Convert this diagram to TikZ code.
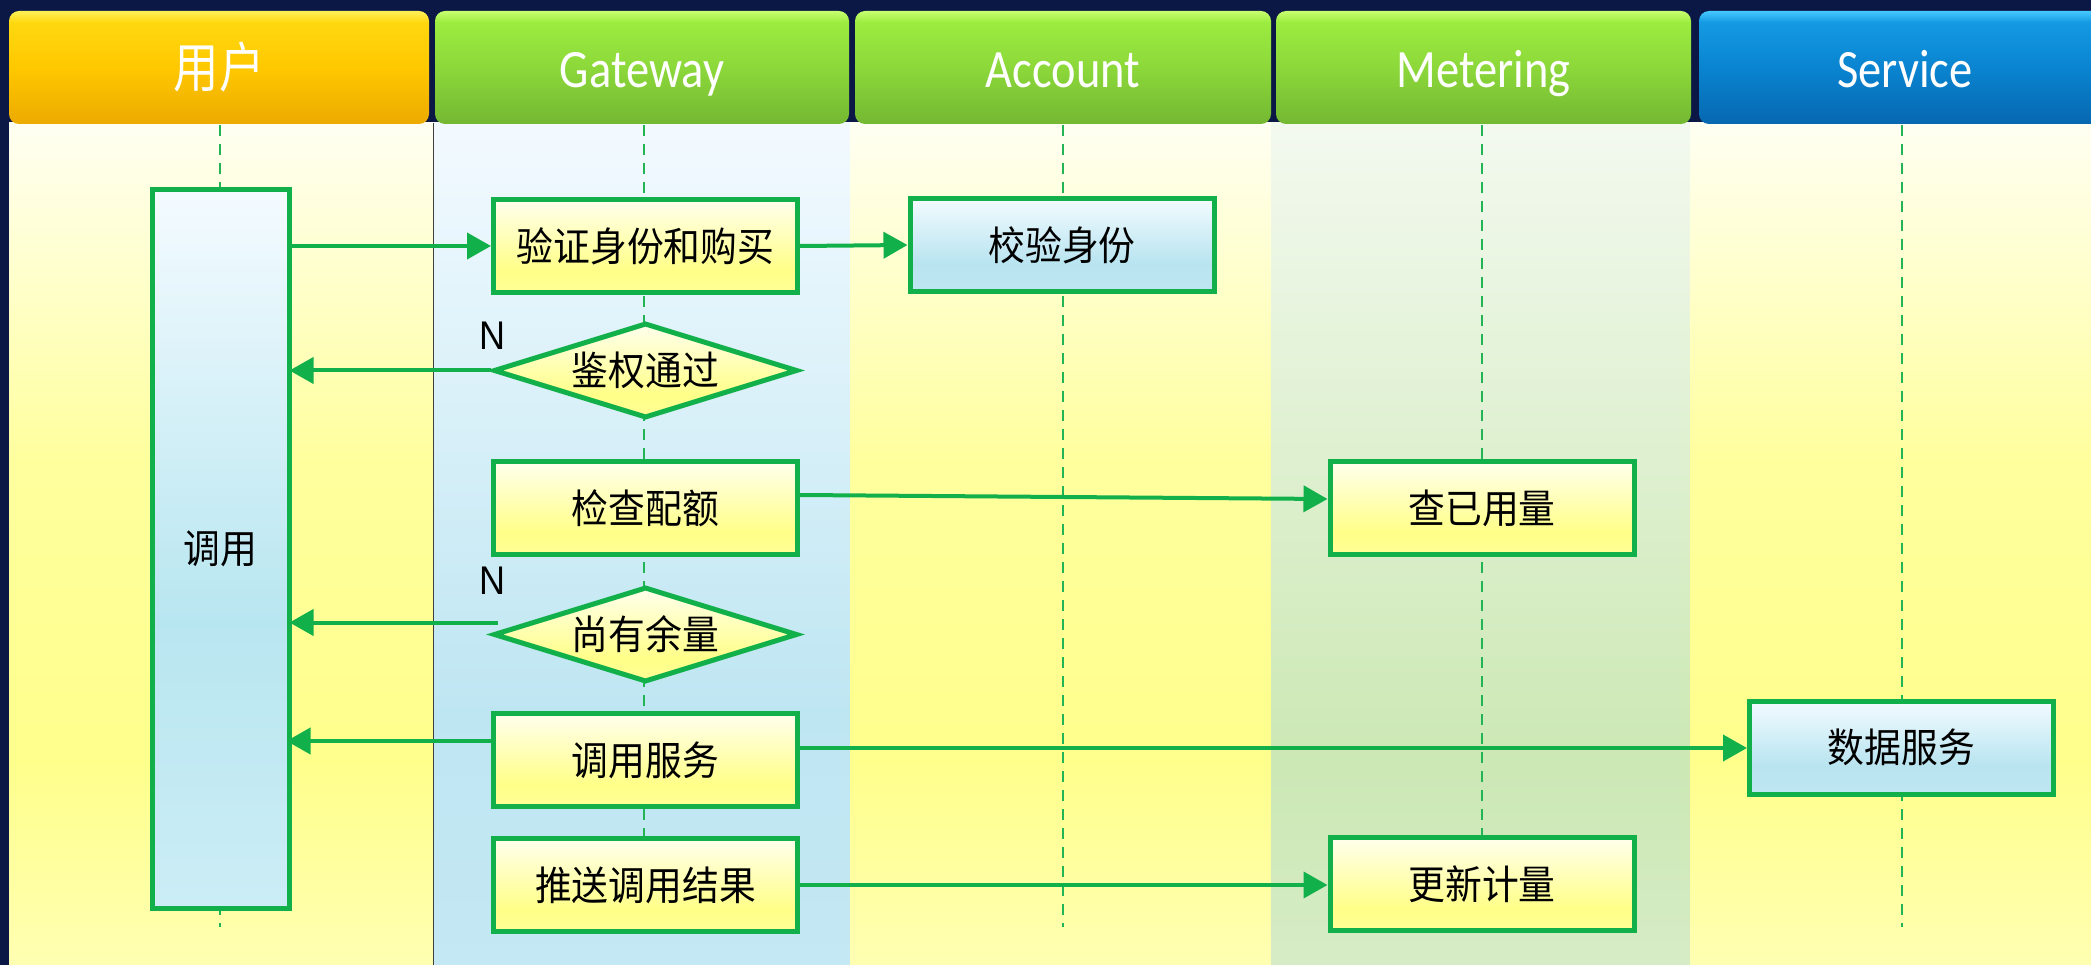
\documentclass[tikz,border=0pt]{standalone}
\usepackage{fontspec}
\setmainfont{Carlito}
\newfontfamily\cjk{Noto Sans CJK SC}
\newfontfamily\cjkn[FakeStretch=0.92]{Noto Sans CJK SC}
\newfontfamily\hdrf[FakeStretch=0.86]{Carlito}
\newfontfamily\hdrc[FakeStretch=0.84]{Noto Sans CJK SC}
\newfontfamily\arialf[FakeStretch=0.9]{Liberation Sans}
\usetikzlibrary{shapes.geometric,arrows.meta,calc}
\definecolor{bgnavy}{HTML}{0B1846}
\definecolor{lineg}{HTML}{12B04A}
\definecolor{lifeg}{HTML}{22B455}
% lane shadings (25bp = bottom of path, 75bp = top of path)
\pgfdeclareverticalshading{ylane}{100bp}{color(0bp)=(yellow!30!white); color(25bp)=(yellow!30!white); color(37bp)=(yellow!45!white); color(55bp)=(yellow!38!white); color(75bp)=(yellow!5!white); color(100bp)=(yellow!5!white)}
\pgfdeclareverticalshading{glane}{100bp}{color(0bp)=(rgb,255:red,214;green,236;blue,198); color(25bp)=(rgb,255:red,214;green,236;blue,198); color(37bp)=(rgb,255:red,204;green,232;blue,180); color(75bp)=(rgb,255:red,243;green,249;blue,239); color(100bp)=(rgb,255:red,243;green,249;blue,239)}
\pgfdeclareverticalshading{blane}{100bp}{color(0bp)=(rgb,255:red,196;green,232;blue,244); color(25bp)=(rgb,255:red,196;green,232;blue,244); color(40bp)=(rgb,255:red,190;green,230;blue,242); color(75bp)=(rgb,255:red,243;green,250;blue,255); color(100bp)=(rgb,255:red,243;green,250;blue,255)}
% header shadings
\pgfdeclareverticalshading{hgold}{100bp}{color(0bp)=(rgb,255:red,236;green,170;blue,0); color(25bp)=(rgb,255:red,236;green,170;blue,0); color(50bp)=(rgb,255:red,255;green,200;blue,0); color(70bp)=(rgb,255:red,255;green,216;blue,16); color(75bp)=(rgb,255:red,255;green,240;blue,90); color(100bp)=(rgb,255:red,255;green,240;blue,90)}
\pgfdeclareverticalshading{hgreen}{100bp}{color(0bp)=(rgb,255:red,116;green,184;blue,50); color(25bp)=(rgb,255:red,116;green,184;blue,50); color(50bp)=(rgb,255:red,140;green,216;blue,58); color(70bp)=(rgb,255:red,156;green,236;blue,64); color(75bp)=(rgb,255:red,200;green,255;blue,112); color(100bp)=(rgb,255:red,200;green,255;blue,112)}
\pgfdeclareverticalshading{hblue}{100bp}{color(0bp)=(rgb,255:red,6;green,104;blue,176); color(25bp)=(rgb,255:red,6;green,104;blue,176); color(50bp)=(rgb,255:red,10;green,132;blue,208); color(70bp)=(rgb,255:red,20;green,154;blue,226); color(75bp)=(rgb,255:red,70;green,200;blue,255); color(100bp)=(rgb,255:red,70;green,200;blue,255)}
% box shadings
\pgfdeclareverticalshading{ybox}{100bp}{color(0bp)=(rgb,255:red,255;green,255;blue,150); color(25bp)=(rgb,255:red,255;green,255;blue,150); color(37bp)=(rgb,255:red,255;green,255;blue,136); color(75bp)=(rgb,255:red,255;green,255;blue,238); color(100bp)=(rgb,255:red,255;green,255;blue,238)}
\pgfdeclareverticalshading{bbox}{100bp}{color(0bp)=(rgb,255:red,190;green,230;blue,242); color(25bp)=(rgb,255:red,190;green,230;blue,242); color(40bp)=(rgb,255:red,184;green,228;blue,240); color(75bp)=(rgb,255:red,243;green,251;blue,255); color(100bp)=(rgb,255:red,243;green,251;blue,255)}
\pgfdeclareverticalshading{cbox}{100bp}{color(0bp)=(rgb,255:red,204;green,237;blue,246); color(25bp)=(rgb,255:red,204;green,237;blue,246); color(45bp)=(rgb,255:red,184;green,230;blue,240); color(75bp)=(rgb,255:red,244;green,251;blue,255); color(100bp)=(rgb,255:red,244;green,251;blue,255)}
\begin{document}
\begin{tikzpicture}[x=1pt,y=-1pt,
  hdr/.style={rounded corners=10pt, minimum height=113pt, inner sep=0pt, text=white, text height=45pt, text depth=4pt, font=\hdrf\fontsize{54}{58}\selectfont},
  life/.style={draw=lifeg, line width=2pt, dash pattern=on 11pt off 8pt},
  basebox/.style={draw=lineg, line width=5pt, minimum width=304pt, minimum height=93pt, inner sep=0pt, font=\cjkn\fontsize{40}{44}\selectfont},
  yellowbox/.style={basebox, shading=ybox},
  bluebox/.style={basebox, shading=bbox},
  decis/.style={shape=diamond, aspect=3.3, draw=lineg, line width=5pt, minimum width=304pt, minimum height=95pt, inner sep=0pt, shading=ybox, font=\cjkn\fontsize{40}{44}\selectfont},
  nlab/.style={font=\arialf\fontsize{40}{42}\selectfont, inner sep=0pt},
  arr/.style={draw=lineg, line width=4pt, -{Triangle[length=24pt,width=26pt]}}
]
\useasboundingbox (0,0) rectangle (2091,965);
\fill[bgnavy] (0,0) rectangle (2091,965);
% lanes
\shade[shading=ylane] (9,123) rectangle (433,965);
\shade[shading=blane] (433,123) rectangle (850,965);
\shade[shading=ylane] (850,123) rectangle (1271,965);
\shade[shading=glane] (1271,123) rectangle (1690,965);
\shade[shading=ylane] (1690,123) rectangle (2091,965);
\draw[line width=1pt, black!75] (433,123) -- (433,965);
% headers
\node[hdr, shading=hgold, minimum width=420pt] (hu) at (219,67.5) {\hdrc 用户};
\node[hdr, shading=hgreen, minimum width=414pt] (hg) at (642,67.5) {Gateway};
\node[hdr, shading=hgreen, minimum width=416pt] (ha) at (1063,67.5) {Account};
\node[hdr, shading=hgreen, minimum width=415pt] (hm) at (1483.5,67.5) {Metering};
\node[hdr, shading=hblue, minimum width=412pt] (hs) at (1905,67.5) {Service};
% lifelines
\coordinate (lu) at (220,125); \coordinate (lg) at (644,125); \coordinate (la) at (1063,125);
\coordinate (lm) at (1482,125); \coordinate (ls) at (1902,125);
\foreach \c in {lu,lg,la,lm,ls} {\draw[life] (\c) -- (\c |- 0,927);}
% nodes
\node[basebox, shading=cbox, minimum width=137pt, minimum height=718pt] (call) at (220.5,549) {调用};
\node[yellowbox] (v1) at (645.5,246) {验证身份和购买};
\node[bluebox] (acc) at (1062,245) {校验身份};
\node[decis] (d1) at (645.5,370.5) {鉴权通过};
\node[yellowbox] (chk) at (645.5,508) {检查配额};
\node[yellowbox] (used) at (1482,508) {查已用量};
\node[decis] (d2) at (645.5,634.5) {尚有余量};
\node[yellowbox] (svc) at (645.5,760) {调用服务};
\node[bluebox] (data) at (1901.5,747.5) {数据服务};
\node[yellowbox] (push) at (645.5,885) {推送调用结果};
\node[yellowbox] (upd) at (1482,884) {更新计量};
\node[nlab] (n1) at (492,336) {N};
\node[nlab] (n2) at (492,581) {N};
% connectors
\draw[arr] (call.east |- v1.west) -- (v1.west);
\draw[arr] (v1.east) -- (acc.west);
\draw[arr, shorten >=-2pt] (d1.west) -- (d1.west -| call.east);
\coordinate (c1) at ($(chk.east)+(0,-13)$);
\coordinate (c2) at ($(used.west)+(0,-9)$);
\draw[arr] (c1) -- (c2);
\coordinate (q2) at ($(d2.west)+(7,-12)$);
\draw[arr, shorten >=-2pt] (q2) -- (q2 -| call.east);
\coordinate (s1) at ($(svc.west)+(0,-19)$);
\draw[arr, shorten >=-5pt] (s1) -- (s1 -| call.east);
\coordinate (s2) at ($(svc.east)+(0,-12)$);
\draw[arr] (s2) -- (s2 -| data.west);
\draw[arr] (push.east) -- (push.east -| upd.west);
\end{tikzpicture}
\end{document}
